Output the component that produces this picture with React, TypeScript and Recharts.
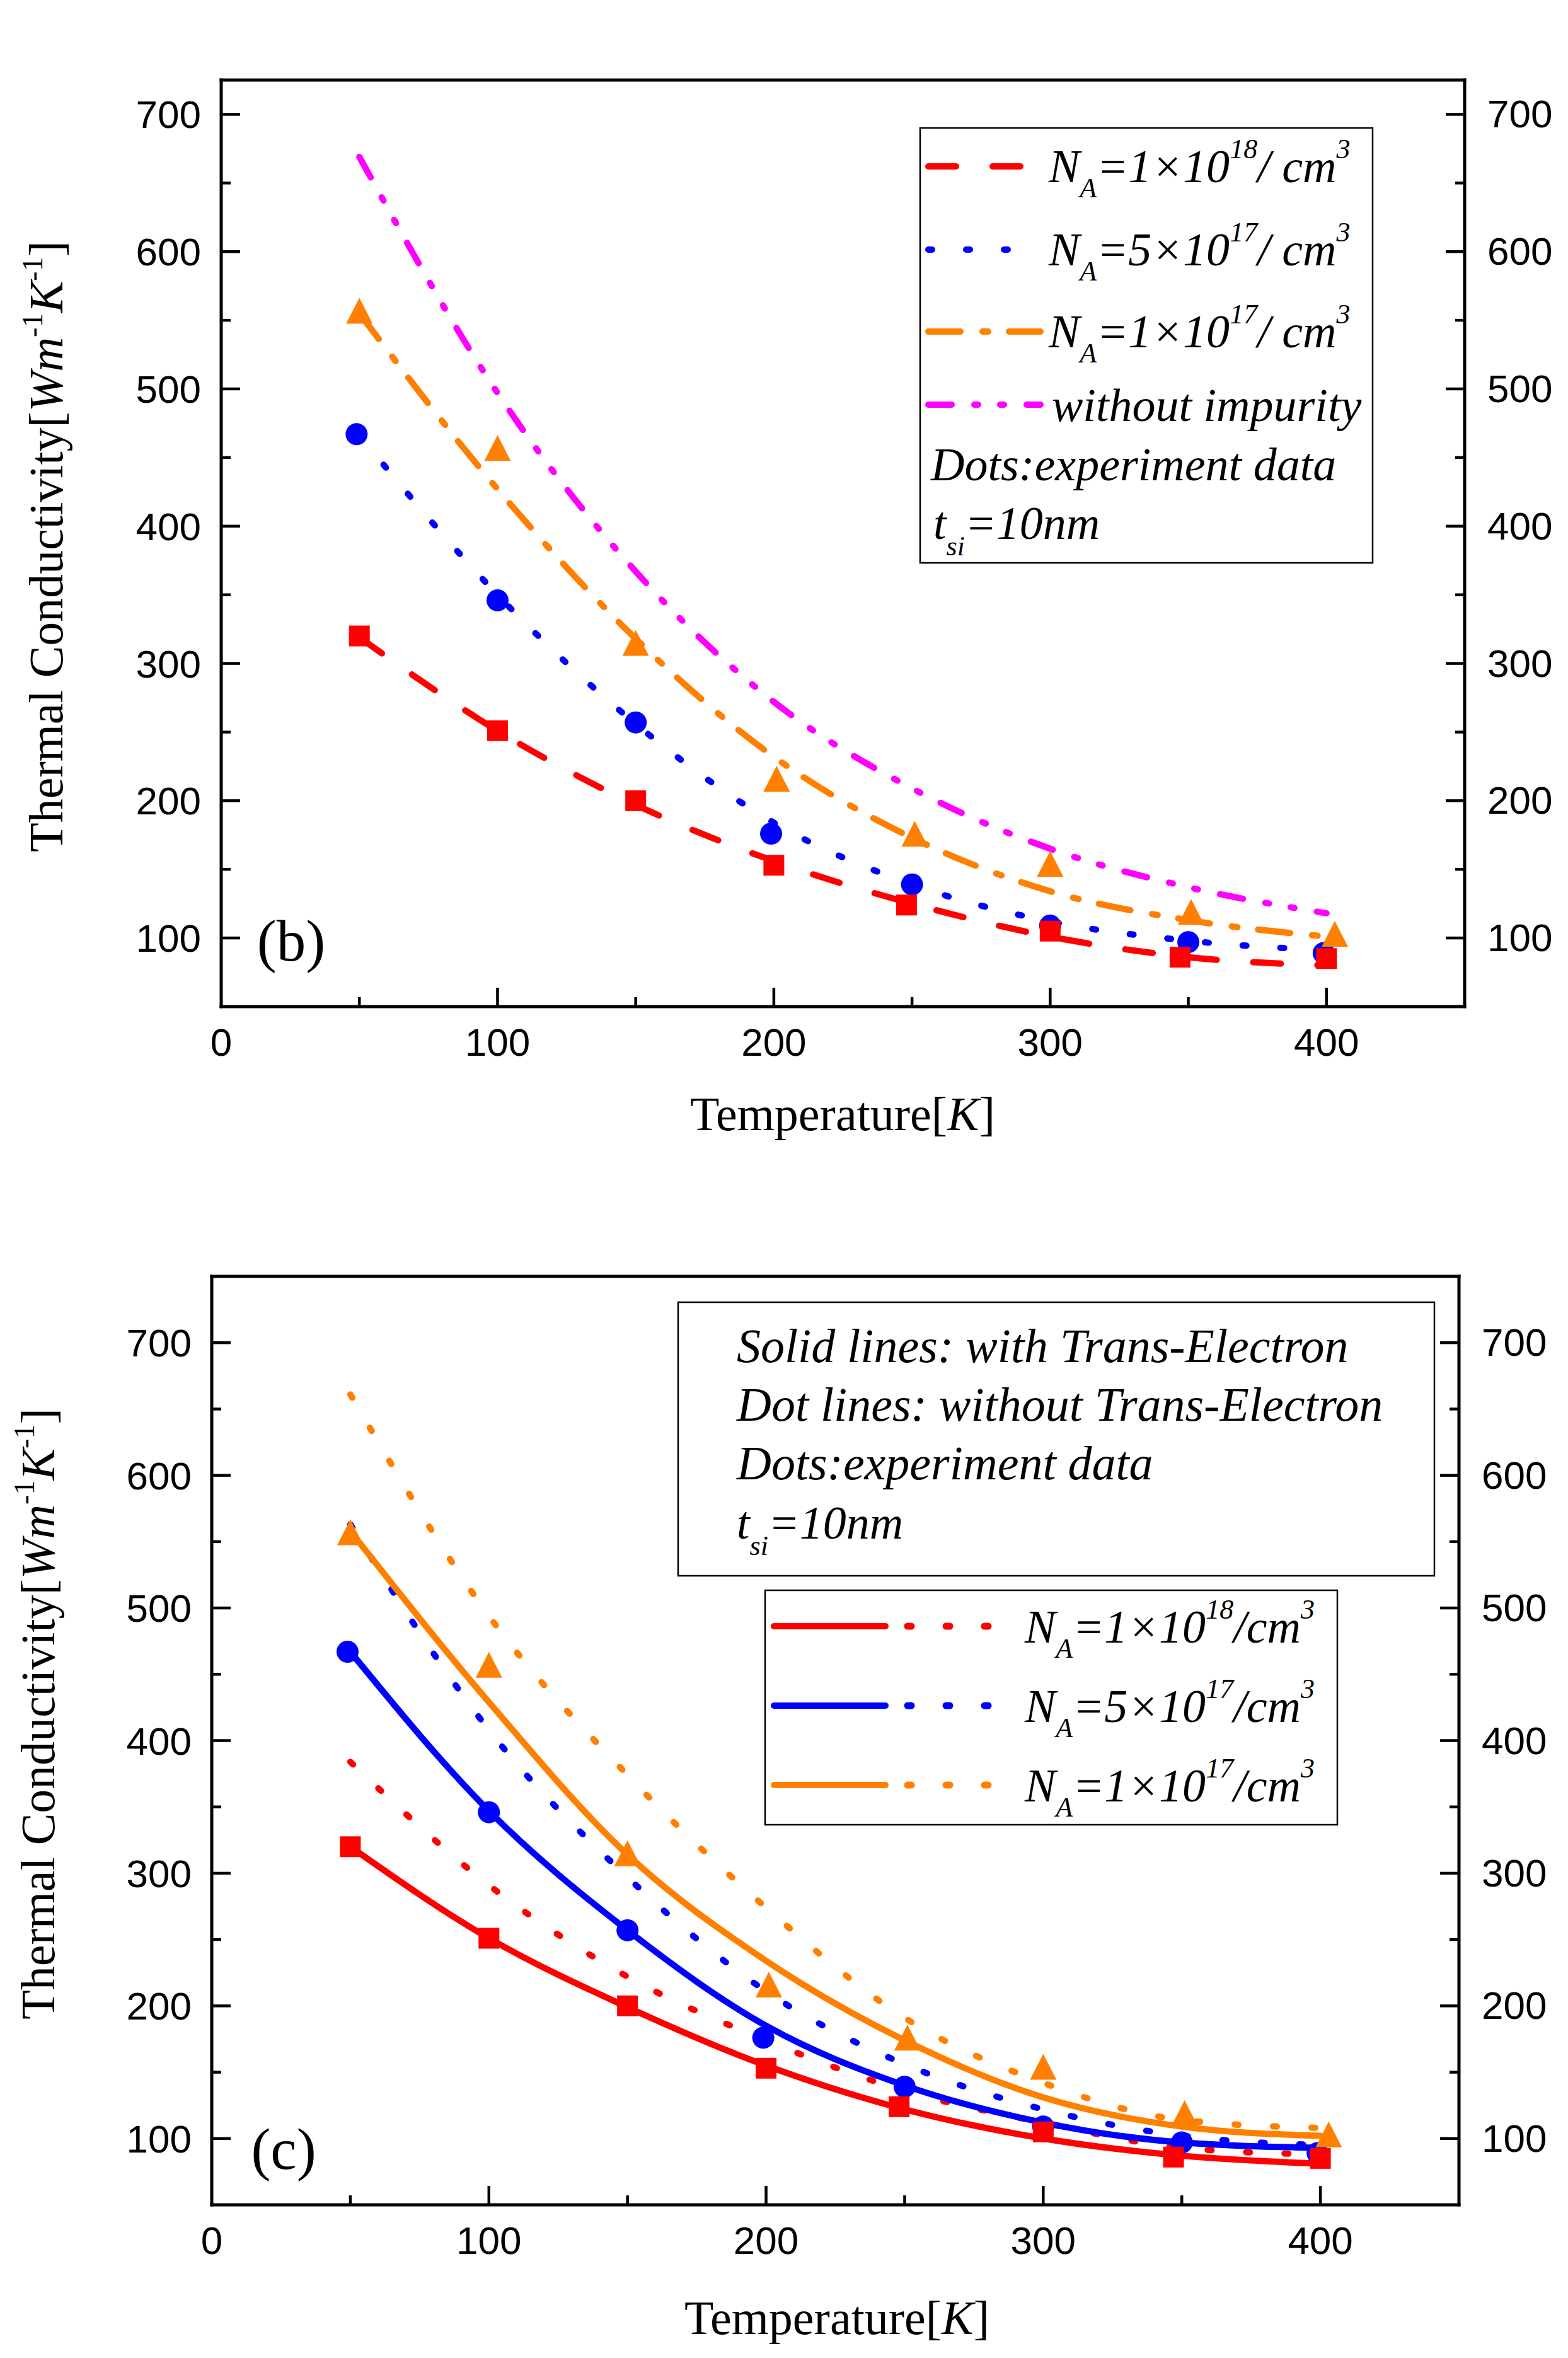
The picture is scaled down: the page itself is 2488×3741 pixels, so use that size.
import React from "react";
import { ComposedChart, Line, Scatter, XAxis, YAxis, Legend, Label } from "recharts";

const SANS = "'Liberation Sans', Arial, sans-serif";
const SERIF = "'Liberation Serif', 'Times New Roman', serif";

const RED = "#ff0000";
const BLUE = "#0000ff";
const ORANGE = "#ff8000";
const MAGENTA = "#ff00ff";

// temperatures where the model curves were read
const temps = [50, 100, 150, 200, 250, 300, 350, 400];

// panel (b) model curves
const bNa18 = [319, 251, 197, 156, 125, 101, 86, 80];
const bNa5e17 = [466, 350, 256, 184, 139, 112, 98, 91];
const bNa17 = [555, 427, 318, 232, 173, 134, 113, 101];
const bPure = [669, 497, 367, 272, 209, 165, 137, 118];

// panel (c): solid = with trans-electron, dot = without
const cSolid18 = [320, 251, 199, 155, 122, 100, 87, 81];
const cDot18 = [384, 291, 222, 174, 136, 112, 93, 88];
const cSolid5e17 = [467, 347, 257, 185, 140, 112, 97, 93];
const cDot5e17 = [563, 408, 297, 211, 156, 122, 102, 95];
const cSolid17 = [558, 429, 314, 234, 174, 131, 109, 102];
const cDot17 = [661, 494, 374, 274, 191, 142, 114, 108];

// experiment data (same in both panels)
const expRedT = [50, 100, 150, 200, 248, 300, 347, 400];
const expRed = [320, 251, 200, 153, 124, 105, 86, 85];
const expBlueT = [49, 100, 150, 199, 250, 300, 350, 399];
const expBlue = [467, 346, 257, 176, 139, 109, 97, 89];
const expOrangeT = [50, 100, 150, 201, 251, 300, 351, 403];
const expOrange = [554, 454, 312, 213, 173, 151, 116, 100];

// axis ticks
const xTicks = [0, 50, 100, 150, 200, 250, 300, 350, 400];
const xTopTicksC = [0, 50, 100, 150, 200, 250, 300, 350, 400, 450, 500];
const yTicks = [50, 100, 150, 200, 250, 300, 350, 400, 450, 500, 550, 600, 650, 700];

const pts = (xs: number[], ys: number[]) => xs.map((x, i) => ({ x, y: ys[i] }));

const AXIS_LINE = { stroke: "#000", strokeWidth: 5, strokeLinecap: "square" as const };

function makeTick(side: "left" | "right" | "top" | "bottom", skip: number[]) {
  return (props: any) => {
    const { x, y, payload } = props;
    const v = payload.value;
    const major = v % 100 === 0;
    const len = major ? 30 : 15;
    let line = null;
    let label = null;
    const tp = { fontFamily: SANS, fontSize: 62, fill: "#000" };
    if (side === "left") {
      line = <line x1={x} x2={x + len} y1={y} y2={y} />;
      if (major) label = <text {...tp} x={x - 32} y={y + 22} textAnchor="end">{v}</text>;
    } else if (side === "right") {
      line = <line x1={x} x2={x - len} y1={y} y2={y} />;
      if (major) label = <text {...tp} x={x + 36} y={y + 21} textAnchor="start">{v}</text>;
    } else if (side === "bottom") {
      line = <line x1={x} x2={x} y1={y} y2={y - len} />;
      if (major) label = <text {...tp} x={x} y={y + 78} textAnchor="middle">{v}</text>;
    } else {
      line = <line x1={x} x2={x} y1={y} y2={y + len} />;
      if (major) label = <text {...tp} x={x} y={y - 47} textAnchor="middle">{v}</text>;
    }
    return (
      <g stroke="#000" strokeWidth={4.5}>
        {!skip.includes(v) && line}
        <g stroke="none">{label}</g>
      </g>
    );
  };
}

const square = (p: any) => <rect x={p.cx - 16.5} y={p.cy - 16.5} width={33} height={33} fill={RED} />;
const circle = (p: any) => <circle cx={p.cx} cy={p.cy} r={17.5} fill={BLUE} />;
const triangle = (p: any) => (
  <polygon points={`${p.cx},${p.cy - 27} ${p.cx - 21},${p.cy + 14} ${p.cx + 21},${p.cy + 14}`} fill={ORANGE} />
);

function NA({ x, y, lead, exp, slash }: { x: number; y: number; lead: string; exp: string; slash: string }) {
  return (
    <text x={x} y={y} fontFamily={SERIF} fontStyle="italic" fontSize={74} fill="#000">
      N
      <tspan fontSize={44} dy={24}>A</tspan>
      <tspan dy={-24}>={lead}×10</tspan>
      <tspan fontSize={44} dy={-38}>{exp}</tspan>
      <tspan dy={38}>{slash}</tspan>
      <tspan fontSize={44} dy={-38}>3</tspan>
    </text>
  );
}

function Tsi({ x, y }: { x: number; y: number }) {
  return (
    <text x={x} y={y} fontFamily={SERIF} fontStyle="italic" fontSize={74} fill="#000">
      t
      <tspan fontSize={44} dy={26}>si</tspan>
      <tspan dy={-26}>=10nm</tspan>
    </text>
  );
}

function YTitle({ x, y }: { x: number; y: number }) {
  return (
    <text x={x} y={y} transform={`rotate(-90 ${x} ${y})`} textAnchor="middle" fontFamily={SERIF} fontSize={76} fill="#000">
      Thermal Conductivity[
      <tspan fontStyle="italic">Wm</tspan>
      <tspan fontSize={46} dy={-32}>-1</tspan>
      <tspan fontStyle="italic" dy={32}>K</tspan>
      <tspan fontSize={46} dy={-32}>-1</tspan>
      <tspan dy={32}>]</tspan>
    </text>
  );
}

function XTitle({ x, y }: { x: number; y: number }) {
  return (
    <text x={x} y={y} textAnchor="middle" fontFamily={SERIF} fontSize={76} fill="#000">
      Temperature[<tspan fontStyle="italic">K</tspan>]
    </text>
  );
}

function PanelLabel({ x, y, text }: { x: number; y: number; text: string }) {
  return (
    <text x={x} y={y} textAnchor="middle" fontFamily={SERIF} fontSize={93} fill="#000">
      {text}
    </text>
  );
}

const bRows = [
  { y: 264, color: RED, dash: "44 58", lead: "1", exp: "18" },
  { y: 396, color: BLUE, dash: "6 54", lead: "5", exp: "17" },
  { y: 526, color: ORANGE, dash: "51 35 9 33", lead: "1", exp: "17" },
];

function LegendB() {
  return (
    <svg width={2488} height={1850}>
      <rect x={1460} y={203} width={718} height={690} fill="none" stroke="#000" strokeWidth={2.5} />
      {bRows.map((r) => (
        <g key={r.y}>
          <line x1={1473} x2={1651} y1={r.y} y2={r.y} stroke={r.color} strokeWidth={10} strokeLinecap="round" strokeDasharray={r.dash} />
          <NA x={1664} y={r.y + 25} lead={r.lead} exp={r.exp} slash="/ cm" />
        </g>
      ))}
      <line x1={1473} x2={1651} y1={642} y2={642} stroke={MAGENTA} strokeWidth={10} strokeLinecap="round" strokeDasharray="37 36 6 35 6 36" />
      <text x={1669} y={668} fontFamily={SERIF} fontStyle="italic" fontSize={74} fill="#000">without impurity</text>
      <text x={1477} y={762} fontFamily={SERIF} fontStyle="italic" fontSize={74} fill="#000">Dots:experiment data</text>
      <Tsi x={1481} y={855} />
    </svg>
  );
}

const cRows = [
  { y: 730, color: RED, lead: "1", exp: "18" },
  { y: 856, color: BLUE, lead: "5", exp: "17" },
  { y: 982, color: ORANGE, lead: "1", exp: "17" },
];

function LegendC() {
  const it = { fontFamily: SERIF, fontStyle: "italic", fontSize: 76, fill: "#000" };
  return (
    <svg width={2488} height={1891}>
      <rect x={1076} y={216} width={1200} height={434} fill="none" stroke="#000" strokeWidth={2.5} />
      <text {...it} x={1169} y={311}>Solid lines: with Trans-Electron</text>
      <text {...it} x={1169} y={404}>Dot lines: without Trans-Electron</text>
      <text {...it} x={1169} y={497}>Dots:experiment data</text>
      <Tsi x={1169} y={591} />
      <rect x={1214} y={673} width={908} height={372} fill="none" stroke="#000" strokeWidth={2.5} />
      {cRows.map((r) => (
        <g key={r.y}>
          <line x1={1228} x2={1405} y1={r.y} y2={r.y} stroke={r.color} strokeWidth={10} strokeLinecap="round" />
          <line x1={1440} x2={1570} y1={r.y} y2={r.y} stroke={r.color} strokeWidth={11} strokeLinecap="round" strokeDasharray="6 55" />
          <NA x={1626} y={r.y + 26} lead={r.lead} exp={r.exp} slash="/cm" />
        </g>
      ))}
    </svg>
  );
}

function Experiments() {
  return [
    <Scatter key="eb" xAxisId="bottom" yAxisId="left" data={pts(expBlueT, expBlue)} shape={circle} isAnimationActive={false} />,
    <Scatter key="er" xAxisId="bottom" yAxisId="left" data={pts(expRedT, expRed)} shape={square} isAnimationActive={false} />,
    <Scatter key="eo" xAxisId="bottom" yAxisId="left" data={pts(expOrangeT, expOrange)} shape={triangle} isAnimationActive={false} />,
  ];
}

export default function App() {
  const lineCommon = { xAxisId: "bottom", yAxisId: "left", dataKey: "y", type: "monotone" as const, dot: false, activeDot: false, isAnimationActive: false, strokeLinecap: "round" as const };
  return (
    <div style={{ position: "absolute", left: 0, top: 0, width: 2488, height: 3741, background: "#fff" }}>
      <div style={{ position: "absolute", left: 0, top: 0 }}>
        <ComposedChart width={2488} height={1850} margin={{ top: 0, right: 0, bottom: 0, left: 0 }}>
          <XAxis xAxisId="bottom" orientation="bottom" type="number" dataKey="x" domain={[0, 450]} ticks={xTicks} interval={0} height={253} allowDataOverflow tickLine={false} tickSize={0} tickMargin={0} axisLine={AXIS_LINE} tick={makeTick("bottom", [0])}>
            <Label content={() => <XTitle x={1337} y={1793} />} />
          </XAxis>
          <XAxis xAxisId="top" orientation="top" type="number" domain={[0, 450]} ticks={xTicks} interval={0} height={127} allowDataOverflow tickLine={false} tickSize={0} tickMargin={0} axisLine={AXIS_LINE} tick={makeTick("top", [0])} />
          <YAxis yAxisId="left" orientation="left" type="number" dataKey="y" domain={[50, 725]} ticks={yTicks} interval={0} width={351} allowDataOverflow tickLine={false} tickSize={0} tickMargin={0} axisLine={AXIS_LINE} tick={makeTick("left", [50])}>
            <Label content={() => <YTitle x={99} y={867} />} />
            <Label content={() => <PanelLabel x={462} y={1524} text="(b)" />} />
          </YAxis>
          <YAxis yAxisId="right" orientation="right" type="number" domain={[50, 725]} ticks={yTicks} interval={0} width={164} allowDataOverflow tickLine={false} tickSize={0} tickMargin={0} axisLine={AXIS_LINE} tick={makeTick("right", [50])} />
          <Line {...lineCommon} data={pts(temps, bNa18)} stroke={RED} strokeWidth={10} strokeDasharray="44 58" />
          <Line {...lineCommon} data={pts(temps, bNa5e17)} stroke={BLUE} strokeWidth={10} strokeDasharray="6 54" />
          <Line {...lineCommon} data={pts(temps, bNa17)} stroke={ORANGE} strokeWidth={10} strokeDasharray="51 35 9 33" />
          <Line {...lineCommon} data={pts(temps, bPure)} stroke={MAGENTA} strokeWidth={10} strokeDasharray="37 36 6 35 6 36" />
          {Experiments()}
          <Legend layout="horizontal" verticalAlign="middle" align="center" wrapperStyle={{ left: 0, top: 0, width: 2488, height: 1850 }} content={() => <LegendB />} />
        </ComposedChart>
      </div>
      <div style={{ position: "absolute", left: 0, top: 1850 }}>
        <ComposedChart width={2488} height={1891} margin={{ top: 0, right: 0, bottom: 0, left: 0 }}>
          <XAxis xAxisId="bottom" orientation="bottom" type="number" dataKey="x" domain={[0, 450]} ticks={xTicks} interval={0} height={243} allowDataOverflow tickLine={false} tickSize={0} tickMargin={0} axisLine={AXIS_LINE} tick={makeTick("bottom", [0])}>
            <Label content={() => <XTitle x={1328} y={1853} />} />
          </XAxis>
          <XAxis xAxisId="top" orientation="top" type="number" domain={[0, 550]} ticks={xTopTicksC} interval={0} height={175} allowDataOverflow tickLine={false} tickSize={0} tickMargin={0} axisLine={AXIS_LINE} tick={makeTick("top", [0])} />
          <YAxis yAxisId="left" orientation="left" type="number" dataKey="y" domain={[50, 750]} ticks={yTicks} interval={0} width={336} allowDataOverflow tickLine={false} tickSize={0} tickMargin={0} axisLine={AXIS_LINE} tick={makeTick("left", [50])}>
            <Label content={() => <YTitle x={86} y={869} />} />
            <Label content={() => <PanelLabel x={450} y={1591} text="(c)" />} />
          </YAxis>
          <YAxis yAxisId="right" orientation="right" type="number" domain={[50, 750]} ticks={yTicks} interval={0} width={173} allowDataOverflow tickLine={false} tickSize={0} tickMargin={0} axisLine={AXIS_LINE} tick={makeTick("right", [50])} />
          <Line {...lineCommon} data={pts(temps, cDot18)} stroke={RED} strokeWidth={10} strokeDasharray="6 55" />
          <Line {...lineCommon} data={pts(temps, cDot5e17)} stroke={BLUE} strokeWidth={10} strokeDasharray="6 55" />
          <Line {...lineCommon} data={pts(temps, cDot17)} stroke={ORANGE} strokeWidth={10} strokeDasharray="6 55" />
          <Line {...lineCommon} data={pts(temps, cSolid18)} stroke={RED} strokeWidth={10} />
          <Line {...lineCommon} data={pts(temps, cSolid5e17)} stroke={BLUE} strokeWidth={10} />
          <Line {...lineCommon} data={pts(temps, cSolid17)} stroke={ORANGE} strokeWidth={10} />
          {Experiments()}
          <Legend layout="horizontal" verticalAlign="middle" align="center" wrapperStyle={{ left: 0, top: 0, width: 2488, height: 1891 }} content={() => <LegendC />} />
        </ComposedChart>
      </div>
    </div>
  );
}
